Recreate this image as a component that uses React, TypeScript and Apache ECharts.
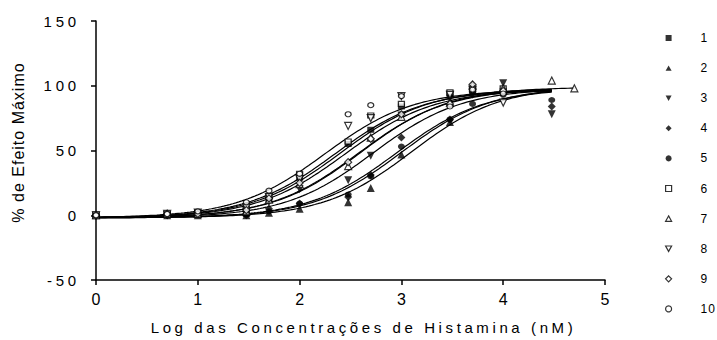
import React, { useEffect, useRef } from "react";
import * as echarts from "echarts";

// log10 of histamine concentration (nM)
const logConc = [0, 0.699, 1, 1.477, 1.699, 2, 2.477, 2.699, 3, 3.477, 3.699, 4, 4.477, 4.699];

const seriesNames = ["1", "2", "3", "4", "5", "6", "7", "8", "9", "10"];

// % of maximal effect for each preparation
const s1 = [0, 1, 1, 1, 12, 29, 55, 66, 84, 94, 95, 96];
const s2 = [0, 0, 0, 0, 2, 5, 10, 21, 47, 72, 101, 97];
const s3 = [0, 0, 1, 3, 10, 20, 27, 46, 77, 90, 93, 102, 78];
const s4 = [0, 0, 1, 0, 5, 9, 14, 31, 60, 74, 99, 95, 84];
const s5 = [0, 0, 1, 1, 3, 9, 16, 30, 53, 74, 86, 93, 89];
const s6 = [0, 1, 2, 5, 15, 32, 57, 77, 86, 95, 97, 98];
const s7 = [0, 1, 1, 3, 12, 24, 38, 60, 76, 87, 100, 98, 104, 98];
const s8 = [0, 1, 2, 6, 14, 28, 69, 75, 92, 93, 97, 87];
const s9 = [0, 1, 1, 4, 13, 25, 41, 59, 78, 86, 101, 96];
const s10 = [0, 1, 3, 10, 19, 32, 78, 85, 92, 84, 97, 94];
const seriesValues = [s1, s2, s3, s4, s5, s6, s7, s8, s9, s10];

// sigmoidal fit parameters
const fitBottom = [-2, -2, -2, -2, -2, -2, -2, -2, -2, -2];
const fitTop = [97, 100, 98, 98, 99, 98, 99, 97, 98, 97];
const fitLogEC50 = [2.45, 3.1, 2.72, 2.95, 3.0, 2.4, 2.6, 2.35, 2.58, 2.25];
const fitHill = [1, 1, 1, 1, 1, 1, 1, 1, 1, 1];
const curveEnd = [4.477, 4.477, 4.477, 4.477, 4.477, 4.477, 4.699, 4.477, 4.477, 4.477];

const yTicks = [-50, 0, 50, 100, 150];
const xTicks = [0, 1, 2, 3, 4, 5];

const X_TITLE = "Log das Concentrações de Histamina (nM)";
const Y_TITLE = "% de Efeito Máximo";

const DOWN_TRI = "path://M0,0L10,0L5,9Z";
const UP_TRI = "path://M5,0L10,9L0,9Z";

const symbols = ["rect", "triangle", "triangle", "diamond", "circle", "rect", "triangle", "triangle", "diamond", "circle"];
const legendIcons = ["rect", UP_TRI, DOWN_TRI, "diamond", "circle", "rect", UP_TRI, DOWN_TRI, "diamond", "circle"];
const rotations = [0, 0, 180, 0, 0, 0, 0, 180, 0, 0];
const filled = [true, true, true, true, true, false, false, false, false, false];
const sizes: any[] = [[7, 6], 8, 8, 8, [7, 6], [6, 5], 7, 7, 7, [6, 5]];

export default function App() {
  const ref = useRef<HTMLDivElement>(null);
  useEffect(() => {
    const el = ref.current!;
    const chart = echarts.init(el, undefined, { renderer: "svg" });

    const lineSeries = seriesNames.map((n, i) => {
      const pts: number[][] = [];
      const steps = 150;
      for (let k = 0; k <= steps; k++) {
        const x = (curveEnd[i] * k) / steps;
        const y = fitBottom[i] + (fitTop[i] - fitBottom[i]) / (1 + Math.pow(10, (fitLogEC50[i] - x) * fitHill[i]));
        pts.push([x, y]);
      }
      return {
        name: "fit " + n,
        type: "line",
        data: pts,
        showSymbol: false,
        symbol: "none",
        lineStyle: { color: "#000", width: 1.2 },
        silent: true,
        z: 2,
      };
    });

    const styleFor = (i: number) =>
      filled[i]
        ? { color: "#000", borderColor: "#000", borderWidth: 0 }
        : { color: "#fff", borderColor: "#000", borderWidth: 1.2 };

    const scatterSeries = seriesNames.map((n, i) => ({
      name: n,
      type: "scatter",
      data: seriesValues[i].map((v, j) => [logConc[j], v]),
      symbol: symbols[i],
      symbolRotate: rotations[i],
      symbolSize: sizes[i],
      itemStyle: styleFor(i),
      z: 3,
    }));

    chart.setOption({
      animation: false,
      backgroundColor: "#fff",
      textStyle: { fontFamily: "Arial, 'Liberation Sans', sans-serif", color: "#000" },
      grid: { left: 96, right: 112, top: 21, bottom: 58 },
      legend: {
        orient: "vertical",
        left: 660,
        top: 27,
        itemWidth: 6,
        itemHeight: 6,
        itemGap: 18.1,
        selectedMode: false,
        symbolRotate: 0,
        data: seriesNames.map((n, i) => ({
          name: n,
          icon: legendIcons[i],
          itemStyle: filled[i]
            ? { color: "#000", borderWidth: 0 }
            : { color: "#fff", borderColor: "#000", borderWidth: 1.2 },
        })),
        textStyle: { fontSize: 12, color: "#000", padding: [0, 0, 0, 24] },
      },
      xAxis: {
        type: "value",
        min: xTicks[0],
        max: xTicks[xTicks.length - 1],
        interval: 1,
        name: X_TITLE,
        nameLocation: "middle",
        nameGap: 40,
        nameTextStyle: { fontSize: 15, color: "#000", padding: [0, 0, 0, 26] },
        axisLine: { onZero: false, lineStyle: { color: "#000", width: 1.5 } },
        axisTick: { length: 5, lineStyle: { color: "#000", width: 1.5 } },
        axisLabel: { fontSize: 16, color: "#000", margin: 11 },
        splitLine: { show: false },
      },
      yAxis: {
        type: "value",
        min: yTicks[0],
        max: yTicks[yTicks.length - 1],
        interval: 50,
        name: Y_TITLE,
        nameLocation: "middle",
        nameGap: 70,
        nameTextStyle: { fontSize: 16, color: "#000", padding: [0, 0, 0, 16] },
        axisLine: { lineStyle: { color: "#000", width: 1.5 } },
        axisTick: { length: 5, lineStyle: { color: "#000", width: 1.5 } },
        axisLabel: { fontSize: 15, color: "#000", margin: 16 },
        splitLine: { show: false },
      },
      series: [...lineSeries, ...scatterSeries],
    });

    const applySpacing = () => {
      el.querySelectorAll("text").forEach((t) => {
        const s = (t.textContent || "").trim();
        const anchor = t.getAttribute("text-anchor");
        let ls = 0;
        if (s === X_TITLE) ls = 3.6;
        else if (s === Y_TITLE) ls = 1;
        else if (anchor === "end" && yTicks.map(String).includes(s)) ls = 3.8;
        else if (anchor === "start" && seriesNames.includes(s)) ls = 1;
        if (ls) t.setAttribute("letter-spacing", String(ls));
      });
    };
    applySpacing();
    chart.on("finished", applySpacing);

    return () => {
      chart.dispose();
    };
  }, []);

  return <div ref={ref} style={{ width: 717, height: 340, position: "absolute", left: 0, top: 0 }} />;
}
